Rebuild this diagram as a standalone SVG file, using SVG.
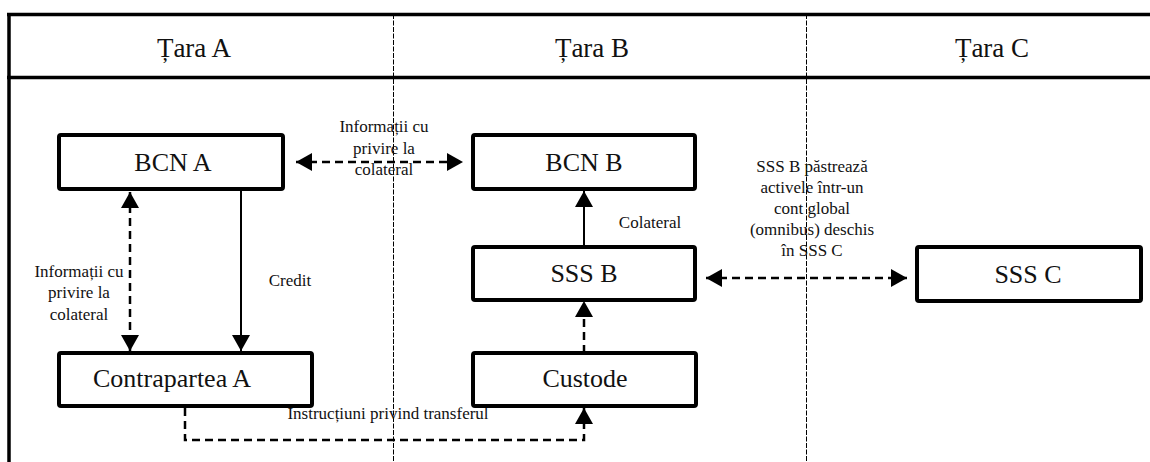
<svg xmlns="http://www.w3.org/2000/svg" width="1150" height="462" viewBox="0 0 1150 462">
  <style>
    .frame { stroke: #000; stroke-width: 3.5; fill: none; }
    .divider { stroke: #000; stroke-width: 1; stroke-dasharray: 5 1.5; fill: none; }
    .box { fill: #fff; stroke: #000; stroke-width: 4; }
    .head { font-family: "Liberation Serif", "DejaVu Serif", serif; font-size: 27px; fill: #111; text-anchor: middle; }
    .label { font-family: "Liberation Serif", "DejaVu Serif", serif; font-size: 26px; fill: #111; text-anchor: middle; }
    .note { font-family: "Liberation Serif", "DejaVu Serif", serif; font-size: 17px; fill: #111; text-anchor: middle; }
    .solid { stroke: #000; stroke-width: 2; fill: none; }
    .dash { stroke: #000; stroke-width: 2.5; stroke-dasharray: 8 5; fill: none; }
  </style>
  <defs>
    <marker id="arrow" markerUnits="userSpaceOnUse" markerWidth="16" markerHeight="18" refX="16" refY="9" orient="auto-start-reverse">
      <path d="M0,0 L16,9 L0,18 z" fill="#000"/>
    </marker>
  </defs>

  <rect width="1150" height="462" fill="#fff"/>

  <!-- swimlane frame -->
  <g id="frame">
    <line class="frame" x1="7" y1="14.5" x2="1150" y2="14.5"/>
    <line class="frame" x1="7" y1="77.5" x2="1150" y2="77.5"/>
    <line class="frame" x1="9" y1="13" x2="9" y2="462"/>
    <line class="divider" x1="393.5" y1="14" x2="393.5" y2="462"/>
    <line class="divider" x1="806.5" y1="14" x2="806.5" y2="462"/>
    <text class="head" x="194" y="57">Țara A</text>
    <text class="head" x="592" y="57">Țara B</text>
    <text class="head" x="992" y="57">Țara C</text>
  </g>

  <!-- connectors -->
  <g id="connectors">
    <line class="dash" x1="296" y1="162" x2="463" y2="162" marker-start="url(#arrow)" marker-end="url(#arrow)"/>
    <line class="dash" x1="130" y1="192" x2="130" y2="351" marker-start="url(#arrow)" marker-end="url(#arrow)"/>
    <line class="solid" x1="241" y1="191" x2="241" y2="351" marker-end="url(#arrow)"/>
    <line class="solid" x1="584" y1="247" x2="584" y2="191" marker-end="url(#arrow)"/>
    <line class="dash" x1="584" y1="353" x2="584" y2="301" marker-end="url(#arrow)"/>
    <line class="dash" x1="706" y1="278" x2="907" y2="278" marker-start="url(#arrow)" marker-end="url(#arrow)"/>
    <path class="dash" d="M185,408 V440 H584 V408" marker-end="url(#arrow)"/>

    <text class="note" x="384"><tspan x="384" y="132">Informații cu</tspan><tspan x="384" y="154">privire la</tspan><tspan x="384" y="175">colateral</tspan></text>
    <text class="note" x="79"><tspan x="79" y="277">Informații cu</tspan><tspan x="79" y="298">privire la</tspan><tspan x="79" y="320">colateral</tspan></text>
    <text class="note" x="290" y="286">Credit</text>
    <text class="note" x="650" y="228">Colateral</text>
    <text class="note" x="812"><tspan x="812" y="172">SSS B păstrează</tspan><tspan x="812" y="193">activele într-un</tspan><tspan x="812" y="214">cont global</tspan><tspan x="812" y="235">(omnibus) deschis</tspan><tspan x="812" y="256">în SSS C</tspan></text>
    <text class="note" x="388" y="419">Instrucțiuni privind transferul</text>
  </g>

  <!-- nodes -->
  <g id="bcn-a">
    <rect class="box" x="59" y="135" width="224" height="54" rx="2"/>
    <text class="label" x="173" y="171">BCN A</text>
  </g>
  <g id="bcn-b">
    <rect class="box" x="473" y="135" width="222" height="54" rx="2"/>
    <text class="label" x="584" y="171">BCN B</text>
  </g>
  <g id="sss-b">
    <rect class="box" x="473" y="247" width="222" height="53" rx="2"/>
    <text class="label" x="584" y="282">SSS B</text>
  </g>
  <g id="sss-c">
    <rect class="box" x="917" y="247" width="224" height="54" rx="2"/>
    <text class="label" x="1028" y="283">SSS C</text>
  </g>
  <g id="contrapartea-a">
    <rect class="box" x="59" y="353" width="253" height="53" rx="2"/>
    <text class="label" x="172" y="387">Contrapartea A</text>
  </g>
  <g id="custode">
    <rect class="box" x="473" y="353" width="223" height="53" rx="2"/>
    <text class="label" x="585" y="387">Custode</text>
  </g>
</svg>
